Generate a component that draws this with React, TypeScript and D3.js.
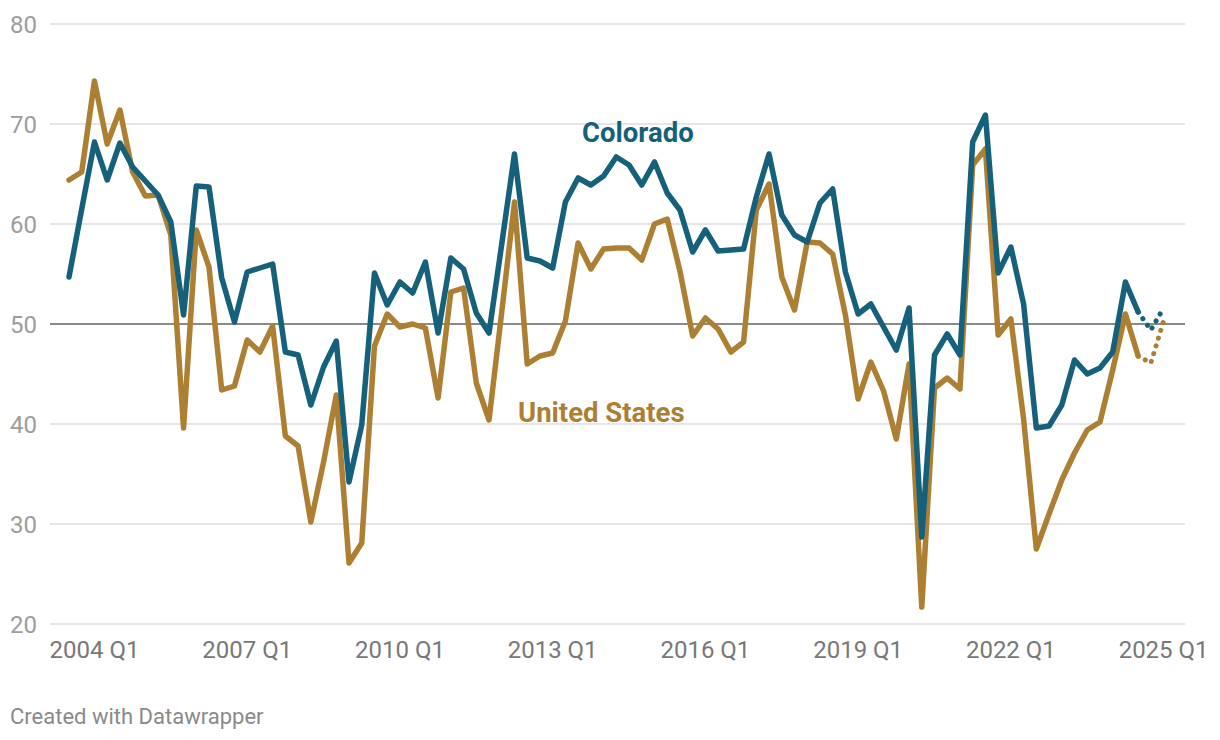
import React from "react";
import * as d3 from "d3";

// Quarters from 2003 Q3 to 2025 Q1
const quarters: string[] = [];
for (let y = 2003; y <= 2025; y++) {
  for (let q = 1; q <= 4; q++) {
    if ((y === 2003 && q < 3) || (y === 2025 && q > 1)) continue;
    quarters.push(`${y} Q${q}`);
  }
}

const colorado: number[] = [
  54.7, 61.5, 68.2, 64.4, 68.1, 65.7, 64.3, 62.9, 60.2, 50.9,
  63.8, 63.7, 54.6, 50.2, 55.2, 55.6, 56.0, 47.2, 46.9, 41.9,
  45.7, 48.3, 34.2, 39.9, 55.1, 51.9, 54.2, 53.1, 56.2, 49.1,
  56.6, 55.5, 51.1, 49.1, 58.0, 67.0, 56.6, 56.3, 55.6, 62.2,
  64.6, 63.9, 64.8, 66.7, 65.9, 63.9, 66.2, 63.1, 61.4, 57.2,
  59.4, 57.3, 57.4, 57.5, 62.7, 67.0, 60.9, 58.9, 58.2, 62.1,
  63.5, 55.2, 51.0, 52.0, 49.7, 47.4, 51.6, 28.7, 46.9, 49.0,
  46.9, 68.2, 70.9, 55.1, 57.7, 52.0, 39.6, 39.8, 41.9, 46.4,
  45.0, 45.6, 47.2, 54.2, 51.2,
];
const coloradoProjected: number[] = [51.2, 49.4, 51.6];

const unitedStates: number[] = [
  64.4, 65.2, 74.3, 68.0, 71.4, 65.2, 62.8, 62.9, 58.9, 39.6,
  59.4, 55.7, 43.4, 43.8, 48.4, 47.2, 49.8, 38.8, 37.8, 30.2,
  36.2, 42.9, 26.1, 28.1, 47.8, 51.0, 49.7, 50.0, 49.6, 42.6,
  53.2, 53.6, 44.1, 40.4, 51.2, 62.2, 46.0, 46.8, 47.1, 50.3,
  58.1, 55.5, 57.5, 57.6, 57.6, 56.4, 60.0, 60.5, 55.3, 48.8,
  50.6, 49.5, 47.2, 48.2, 61.4, 64.0, 54.7, 51.4, 58.2, 58.1,
  57.0, 50.9, 42.5, 46.2, 43.3, 38.5, 46.0, 21.7, 43.6, 44.6,
  43.5, 65.9, 67.5, 48.9, 50.5, 40.5, 27.5, 31.0, 34.4, 37.1,
  39.4, 40.2, 45.4, 51.0, 46.8,
];
const unitedStatesProjected: number[] = [46.8, 46.1, 50.3];

const yTicks: number[] = [20, 30, 40, 50, 60, 70, 80];
const xTickLabels: string[] = [
  "2004 Q1", "2007 Q1", "2010 Q1", "2013 Q1", "2016 Q1", "2019 Q1", "2022 Q1", "2025 Q1",
];

const W = 1220;
const H = 740;
const COL_CO = "#15607a";
const COL_US = "#ad7f32";
const FONT = "Roboto, 'Noto Sans', sans-serif";

export default function App() {
  const x = d3.scaleLinear().domain([0, quarters.length - 1]).range([69, 1163.6]);
  const y = d3.scaleLinear().domain([20, 80]).range([624, 24]);

  const line = d3
    .line<number>()
    .x((_, i) => x(i))
    .y((d) => y(d));
  const projStart = colorado.length - 1;
  const lineProj = d3
    .line<number>()
    .x((_, i) => x(projStart + i))
    .y((d) => y(d));

  return (
    <svg
      width={W}
      height={H}
      style={{ position: "absolute", left: 0, top: 0, background: "#fff" }}
      fontFamily={FONT}
    >
      {yTicks.map((t) => (
        <g key={t}>
          <line
            x1={50}
            x2={1185}
            y1={y(t)}
            y2={y(t)}
            stroke={t === 50 ? "#8a8a8a" : "#e6e6e6"}
            strokeWidth={2}
          />
          <text
            x={10}
            y={y(t)}
            dy="0.36em"
            fontSize={24}
            fill="#9d9d9d"
          >
            {t}
          </text>
        </g>
      ))}
      {xTickLabels.map((lbl) => {
        const i = quarters.indexOf(lbl);
        return (
          <text
            key={lbl}
            x={x(i)}
            y={658}
            textAnchor="middle"
            fontSize={24}
            fill="#787878"
          >
            {lbl}
          </text>
        );
      })}

      <path
        d={line(unitedStates) || ""}
        fill="none"
        stroke={COL_US}
        strokeWidth={5.5}
        strokeLinejoin="round"
        strokeLinecap="round"
      />
      <path
        d={lineProj(unitedStatesProjected) || ""}
        fill="none"
        stroke={COL_US}
        strokeWidth={5}
        strokeLinecap="round"
        strokeDasharray="0.1 8"
      />
      <path
        d={line(colorado) || ""}
        fill="none"
        stroke={COL_CO}
        strokeWidth={5.5}
        strokeLinejoin="round"
        strokeLinecap="round"
      />
      <path
        d={lineProj(coloradoProjected) || ""}
        fill="none"
        stroke={COL_CO}
        strokeWidth={5}
        strokeLinecap="round"
        strokeDasharray="0.1 8"
      />

      <text x={582} y={142} fontSize={27.5} fontWeight={700} fill={COL_CO}>
        Colorado
      </text>
      <text x={518} y={422} fontSize={27.5} fontWeight={700} fill={COL_US}>
        United States
      </text>

      <text x={10} y={724} fontSize={22} fill="#8a8a8a">
        Created with Datawrapper
      </text>
    </svg>
  );
}
